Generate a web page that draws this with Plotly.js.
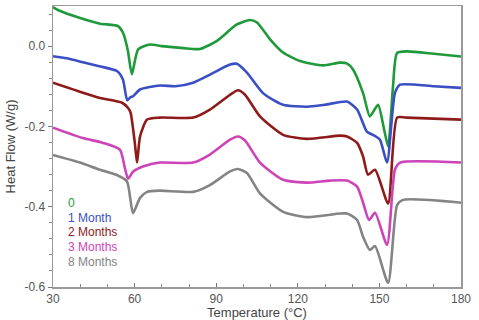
<!DOCTYPE html>
<html>
<head>
<meta charset="utf-8">
<script src="https://cdn.plot.ly/plotly-3.0.1.min.js"></script>
<style>html,body{margin:0;padding:0;background:#fff;}#chart{width:479px;height:320px;}</style>
</head>
<body>
<div id="chart"></div>
<script>
const seriesNames = ["0", "1 Month", "2 Months", "3 Months", "8 Months"];
const seriesColors = ["#1f9a3a", "#3a4fc4", "#8e1a1a", "#cc44b8", "#848484"];

const t0 = [30, 31.8, 40, 47.3, 53.9, 55.7, 57.5, 59.0, 61.3, 65.7, 70, 78, 84, 90.3, 97.6, 102.4, 105, 109.8, 114.6, 120.8, 129.3, 135.5, 138, 140.3, 144, 146.5, 149.5, 151.5, 153.2, 155, 156.5, 160.1, 170, 180];
const y0 = [0.097, 0.09, 0.07, 0.056, 0.05, 0.034, -0.01, -0.07, -0.008, 0.004, 0.0, -0.005, -0.007, 0.013, 0.054, 0.065, 0.059, 0.017, -0.016, -0.037, -0.048, -0.041, -0.043, -0.058, -0.117, -0.175, -0.146, -0.2, -0.25, -0.1, -0.017, -0.013, -0.019, -0.026];

const t1 = [30, 35, 41, 47, 53.5, 55.7, 57.3, 58.5, 59.4, 62, 69.3, 75, 81.5, 87.7, 95.1, 97.6, 101.3, 107.2, 114.6, 123.4, 130, 138.1, 141.8, 145.4, 147.6, 150.2, 152.8, 155.7, 157.6, 170, 180];
const y1 = [-0.025, -0.03, -0.04, -0.05, -0.062, -0.083, -0.135, -0.127, -0.125, -0.108, -0.098, -0.1, -0.091, -0.071, -0.046, -0.044, -0.066, -0.117, -0.146, -0.151, -0.146, -0.138, -0.158, -0.213, -0.221, -0.233, -0.29, -0.117, -0.096, -0.1, -0.104];

const t2 = [30, 41, 47.3, 55.4, 57.6, 58.5, 60.1, 60.9, 62, 64.6, 69.3, 81.5, 87.7, 95.1, 98, 100.6, 106.1, 114.6, 123.4, 135.5, 138.1, 141.8, 144, 145.8, 148.4, 153.2, 156.5, 160, 180];
const y2 = [-0.091, -0.116, -0.129, -0.141, -0.154, -0.165, -0.242, -0.29, -0.225, -0.183, -0.178, -0.178, -0.158, -0.121, -0.11, -0.121, -0.175, -0.221, -0.231, -0.223, -0.225, -0.241, -0.275, -0.32, -0.308, -0.392, -0.178, -0.178, -0.183];

const t3 = [30, 41, 48.4, 54.6, 56.4, 57.6, 59.4, 63.1, 69.3, 81.5, 87.7, 95.1, 98, 100.6, 106.1, 114.6, 123.4, 131.8, 138.1, 141.8, 144, 146.2, 148.4, 152.8, 155.7, 157.6, 180];
const y3 = [-0.203, -0.229, -0.241, -0.258, -0.303, -0.33, -0.313, -0.30, -0.29, -0.29, -0.27, -0.233, -0.225, -0.235, -0.29, -0.333, -0.34, -0.335, -0.335, -0.35, -0.39, -0.433, -0.415, -0.495, -0.308, -0.29, -0.29];

const t8 = [30, 39.9, 47.3, 53.5, 57.2, 59.4, 62, 64.6, 69.3, 81.5, 87.7, 95.1, 98, 101.3, 106.1, 114.6, 123.4, 135.5, 138.1, 141.8, 144, 146.5, 148.4, 153.2, 156.5, 158.7, 180];
const y8 = [-0.271, -0.29, -0.308, -0.321, -0.337, -0.416, -0.378, -0.363, -0.36, -0.363, -0.346, -0.312, -0.306, -0.316, -0.367, -0.413, -0.426, -0.417, -0.417, -0.433, -0.475, -0.508, -0.498, -0.59, -0.396, -0.383, -0.39];

const xTicks = [30, 60, 90, 120, 150, 180];
const yTicks = [0.0, -0.2, -0.4, -0.6];
const xTitle = "Temperature (°C)";
const yTitle = "Heat Flow (W/g)";

const xs = [t0, t1, t2, t3, t8];
const ys = [y0, y1, y2, y3, y8];

const font = "Liberation Sans, Arial, sans-serif";

const traces = xs.map((x, i) => ({
  x: x, y: ys[i], type: "scatter", mode: "lines", name: seriesNames[i],
  line: {color: seriesColors[i], width: 2.6, shape: "spline", smoothing: 0.6},
  showlegend: false, hoverinfo: "skip"
}));

const annotations = seriesNames.map((n, i) => ({
  text: n, xref: "paper", yref: "paper",
  x: 0.032, y: (287 - 203 - i * 14.7) / 281, xanchor: "left", yanchor: "middle",
  showarrow: false, font: {family: font, size: 12, color: seriesColors[i]}
}));

const axisCommon = {
  showgrid: false, zeroline: false, showline: true, mirror: true,
  linecolor: "#9a9a9a", linewidth: 1.5, ticklen: 4,
  tickcolor: "#777", tickfont: {family: font, size: 12, color: "#555"}
};

const layout = {
  width: 479, height: 320,
  margin: {l: 53, r: 18, t: 6, b: 33},
  paper_bgcolor: "#fff", plot_bgcolor: "#fff",
  xaxis: Object.assign({}, axisCommon, {
    range: [30, 180], tickvals: xTicks, ticktext: xTicks.map(String),
    ticks: "inside", ticklen: 4,
    minor: {dtick: 10, ticks: "inside", ticklen: 3, tickcolor: "#888"},
    title: {text: xTitle, font: {family: font, size: 13, color: "#444"}, standoff: 0}
  }),
  yaxis: Object.assign({}, axisCommon, {
    range: [-0.6, 0.1], tickvals: yTicks, ticktext: yTicks.map(v => v.toFixed(1)),
    ticks: "outside",
    minor: {dtick: 0.04, tick0: 0, ticks: "outside", ticklen: 3, tickcolor: "#888"},
    title: {text: yTitle, font: {family: font, size: 13, color: "#444"}, standoff: 6}
  }),
  annotations: annotations
};

Plotly.newPlot("chart", traces, layout, {staticPlot: true, displayModeBar: false});
</script>
</body>
</html>
